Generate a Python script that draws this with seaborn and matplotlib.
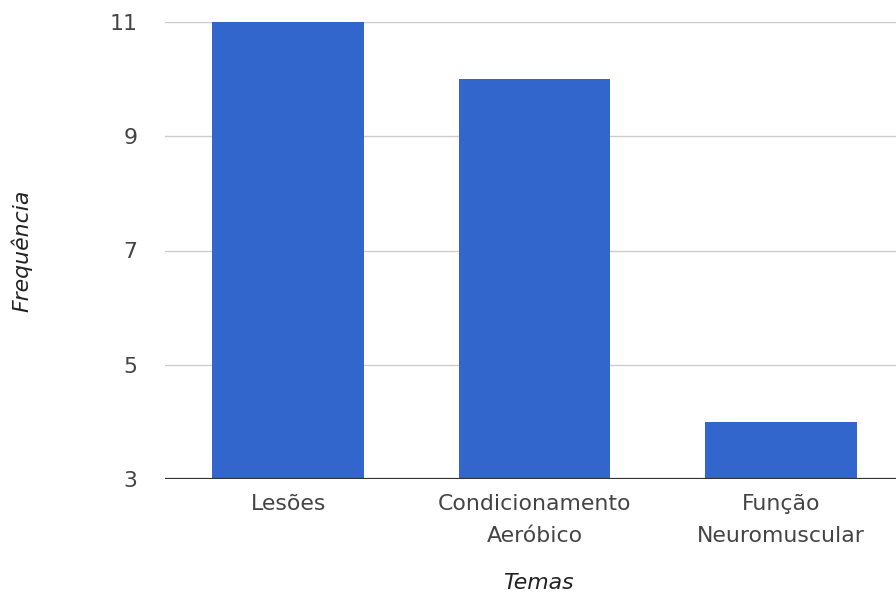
import matplotlib
matplotlib.use("Agg")
import matplotlib.pyplot as plt
import seaborn as sns
import pandas as pd

# Chart data
categorias = ["Lesões", "Condicionamento\nAeróbico", "Função\nNeuromuscular"]
frequencias = [11, 10, 4]
yticks = [3, 5, 7, 9, 11]

sns.set_style("white")
plt.rcParams["font.family"] = ["DejaVu Sans"]

df = pd.DataFrame({"Temas": categorias, "Frequência": frequencias})

fig = plt.figure(figsize=(8.96, 5.98), dpi=100)
ax = fig.add_axes([165 / 896, 1 - 479 / 598, (904 - 165) / 896, (479 - 22) / 598])

sns.barplot(data=df, x="Temas", y="Frequência", color="#3366CC",
            saturation=1, width=0.617, ax=ax, zorder=3)

# bars rise from the baseline value 3
for patch, v in zip(ax.patches, frequencias):
    patch.set_y(3)
    patch.set_height(v - 3)
    patch.set_edgecolor("none")

ax.set_ylim(3, 11)
ax.set_xlim(-0.5, 2.5)
ax.set_yticks(yticks)
ax.set_yticklabels([str(t) for t in yticks])

for t in yticks[1:]:
    ax.axhline(t, color="#cccccc", lw=1.0, zorder=1)
ax.axhline(3, color="#333333", lw=1.6, zorder=4)

for s in ax.spines.values():
    s.set_visible(False)

fs = 15.8
ax.tick_params(axis="both", length=0, labelsize=fs, labelcolor="#444444")
ax.tick_params(axis="y", pad=20)
ax.tick_params(axis="x", pad=11)
for lbl in ax.get_xticklabels():
    lbl.set_linespacing(1.75)

ax.set_xlabel("Temas", fontsize=fs, style="italic", color="#222222", va="center")
ax.xaxis.set_label_coords(0.505, (479 - 583) / 457)
ax.set_ylabel("Frequência", fontsize=fs, style="italic", color="#222222", va="center")
ax.yaxis.set_label_coords((22 - 165) / 739, 0.5)

fig.savefig("out.png", dpi=100)
